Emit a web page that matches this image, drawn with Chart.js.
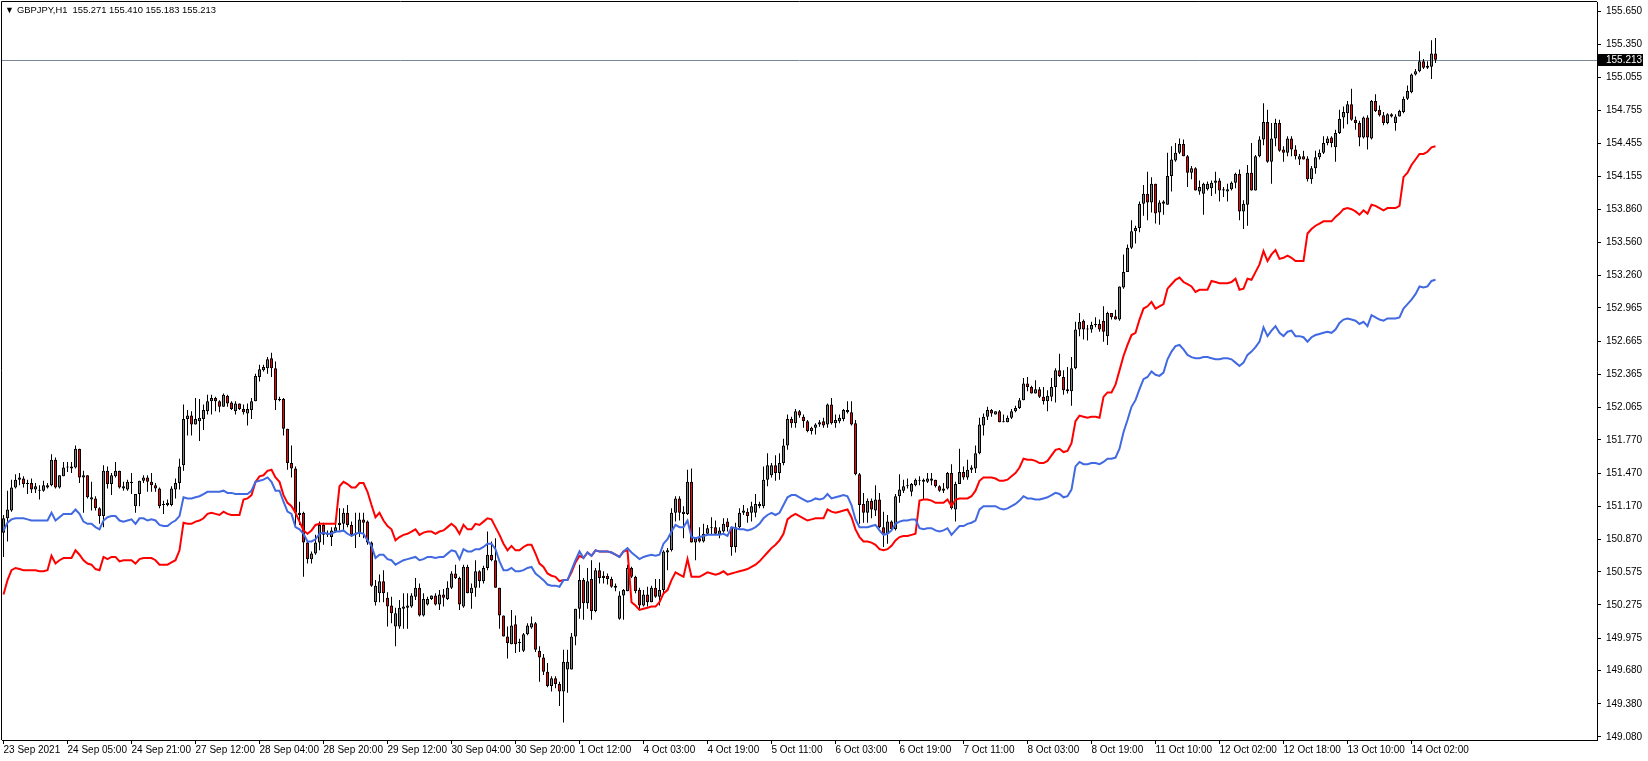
<!DOCTYPE html>
<html>
<head>
<meta charset="utf-8">
<script src="https://cdn.jsdelivr.net/npm/chart.js@4.4.1/dist/chart.umd.min.js"></script>
<style>
  html, body { margin: 0; padding: 0; background: #fff; overflow: hidden; }
  #wrap { position: relative; width: 1648px; height: 761px; }
  #chart { display: block; }
  .hdr { position: absolute; top: 4px; font-family: 'Liberation Sans', Arial, sans-serif; color: #000; white-space: pre; line-height: 12px; }
  #tri { left: 5px; font-size: 9px; }
  #title { left: 17px; font-size: 9.4px; }
</style>
</head>
<body>
<div id="wrap">
  <canvas id="chart" width="1648" height="761"></canvas>
  <span class="hdr" id="tri">▼</span>
  <span class="hdr" id="title">GBPJPY,H1  155.271 155.410 155.183 155.213</span>
</div>
<script>
// GBPJPY H1, one entry per bar (bar 0 = 23 Sep 2021 13:00)
const opens = [
  150.93,151.06,151.13,151.34,151.41,151.42,151.37,151.38,151.32,151.31,
  151.31,151.34,151.36,151.59,151.34,151.44,151.52,151.53,151.52,151.69,
  151.43,151.45,151.23,151.24,151.15,151.08,151.49,151.37,151.44,151.49,
  151.33,151.32,151.38,151.17,151.28,151.40,151.43,151.39,151.36,151.33,
  151.18,151.18,151.18,151.32,151.38,151.54,151.96,151.99,151.91,151.94,
  151.96,152.03,152.12,152.15,152.12,152.07,152.17,152.11,152.03,152.10,
  152.05,152.01,152.04,152.12,152.34,152.40,152.42,152.51,152.42,152.13,
  152.14,151.87,151.56,151.51,151.09,151.11,150.84,150.69,150.74,150.84,
  151.00,150.91,150.89,150.94,151.00,151.01,151.11,151.00,150.91,150.92,
  151.05,151.03,150.84,150.30,150.38,150.49,150.34,150.27,150.08,150.08,
  150.24,150.25,150.26,150.35,150.43,150.18,150.28,150.33,150.36,150.28,
  150.37,150.33,150.43,150.56,150.52,150.26,150.62,150.38,150.43,150.58,
  150.49,150.61,150.73,150.68,150.43,150.18,149.99,149.92,150.10,149.93,
  149.86,150.01,150.07,150.11,149.86,149.80,149.67,149.54,149.61,149.56,
  149.49,149.69,149.69,149.99,150.24,150.50,150.29,150.51,150.22,150.59,
  150.54,150.54,150.51,150.45,150.15,150.36,150.40,150.61,150.53,150.41,
  150.27,150.37,150.30,150.43,150.35,150.41,150.75,150.77,151.11,151.24,
  151.10,151.10,151.39,150.84,150.88,150.85,150.92,150.97,150.98,150.91,
  150.94,151.03,150.98,150.80,150.98,151.11,151.12,151.11,151.11,151.19,
  151.17,151.41,151.45,151.54,151.47,151.56,151.72,151.96,151.92,152.03,
  151.98,151.94,151.85,151.88,151.91,151.94,151.91,152.09,151.92,151.94,
  151.96,152.04,152.02,151.92,151.46,151.19,151.11,151.22,151.13,151.23,
  150.98,150.92,151.03,150.96,151.26,151.31,151.35,151.30,151.36,151.40,
  151.41,151.39,151.42,151.41,151.35,151.31,151.33,151.47,151.14,151.37,
  151.48,151.43,151.50,151.51,151.65,151.90,151.98,152.04,152.00,152.03,
  151.93,151.93,151.97,152.03,152.06,152.13,152.28,152.25,152.19,152.23,
  152.16,152.12,152.16,152.25,152.40,152.34,152.23,152.21,152.42,152.77,
  152.85,152.77,152.77,152.81,152.82,152.85,152.71,152.92,152.89,152.86,
  153.15,153.29,153.51,153.66,153.69,153.91,154.00,153.92,154.09,153.83,
  153.93,153.90,154.16,154.30,154.37,154.45,154.34,154.19,154.23,154.02,
  154.00,154.04,154.05,154.10,154.12,154.04,154.02,154.04,154.10,154.18,
  153.84,153.90,154.19,154.03,154.34,154.49,154.65,154.29,154.50,154.64,
  154.40,154.37,154.50,154.40,154.31,154.34,154.32,154.13,154.23,154.33,
  154.37,154.46,154.51,154.42,154.55,154.69,154.73,154.81,154.67,154.64,
  154.51,154.69,154.50,154.84,154.76,154.71,154.64,154.72,154.64,154.70,
  154.74,154.86,154.92,155.08,155.11,155.20,155.14,155.15,155.271
];
const highs = [
  151.09,151.31,151.41,151.46,151.47,151.44,151.41,151.42,151.38,151.36,
  151.40,151.38,151.64,151.61,151.45,151.57,151.57,151.57,151.72,151.69,
  151.49,151.45,151.39,151.26,151.16,151.54,151.53,151.47,151.57,151.49,
  151.39,151.41,151.47,151.28,151.40,151.45,151.45,151.47,151.38,151.34,
  151.22,151.23,151.35,151.42,151.60,152.09,152.04,152.03,152.15,152.14,
  152.09,152.18,152.18,152.16,152.13,152.19,152.18,152.12,152.12,152.10,
  152.09,152.10,152.15,152.37,152.45,152.45,152.52,152.56,152.48,152.16,
  152.15,151.87,151.72,151.53,151.21,151.12,150.85,150.76,150.91,151.03,
  151.02,150.95,150.98,151.03,151.15,151.15,151.18,151.03,151.11,151.11,
  151.11,151.04,150.85,150.50,150.55,150.59,150.39,150.35,150.25,150.32,
  150.38,150.38,150.38,150.52,150.47,150.38,150.35,150.36,150.38,150.41,
  150.42,150.49,150.58,150.64,150.53,150.64,150.64,150.47,150.68,150.59,
  150.63,150.94,150.85,150.88,150.43,150.18,150.08,150.23,150.18,149.97,
  150.02,150.11,150.17,150.12,149.90,149.83,149.75,149.63,149.63,149.58,
  149.87,149.87,150.02,150.24,150.64,150.52,150.61,150.68,150.61,150.66,
  150.58,150.56,150.53,150.47,150.40,150.42,150.64,150.62,150.54,150.43,
  150.41,150.44,150.45,150.51,150.51,150.77,150.79,151.15,151.26,151.26,
  151.17,151.50,151.51,150.89,150.98,151.01,151.00,151.07,151.04,150.98,
  151.06,151.06,150.98,151.02,151.15,151.18,151.15,151.21,151.28,151.21,
  151.53,151.65,151.56,151.63,151.65,151.78,152.00,151.98,152.05,152.04,
  152.00,151.95,151.89,151.92,151.95,151.97,152.10,152.15,152.00,152.00,
  152.05,152.12,152.12,151.95,151.47,151.29,151.24,151.24,151.36,151.29,
  151.12,151.09,151.04,151.28,151.46,151.41,151.42,151.38,151.42,151.44,
  151.42,151.47,151.47,151.41,151.36,151.38,151.48,151.55,151.39,151.69,
  151.53,151.59,151.54,151.72,151.97,152.01,152.07,152.05,152.03,152.04,
  152.00,151.99,152.05,152.08,152.15,152.33,152.34,152.26,152.31,152.25,
  152.25,152.22,152.33,152.42,152.55,152.40,152.43,152.52,152.84,152.92,
  152.86,152.81,152.84,152.88,152.86,152.98,152.93,152.92,152.95,153.16,
  153.45,153.54,153.76,153.71,153.93,154.08,154.20,154.15,154.09,153.94,
  153.94,154.37,154.43,154.46,154.50,154.49,154.35,154.25,154.24,154.12,
  154.10,154.11,154.12,154.20,154.14,154.06,154.09,154.11,154.19,154.22,
  153.94,154.26,154.46,154.35,154.52,154.82,154.76,154.64,154.68,154.67,
  154.43,154.52,154.52,154.44,154.36,154.39,154.34,154.25,154.39,154.40,
  154.52,154.52,154.52,154.58,154.76,154.79,154.84,154.95,154.70,154.66,
  154.70,154.71,154.85,154.90,154.80,154.74,154.73,154.73,154.72,154.76,
  154.88,154.98,155.09,155.13,155.29,155.22,155.20,155.39,155.410
];
const lows = [
  150.71,150.85,151.12,151.33,151.36,151.34,151.28,151.29,151.29,151.23,
  151.30,151.33,151.35,151.33,151.33,151.44,151.48,151.47,151.51,151.38,
  151.11,151.24,151.13,151.13,151.01,150.98,151.33,151.27,151.43,151.33,
  151.31,151.31,151.28,151.11,151.17,151.38,151.30,151.30,151.30,151.15,
  151.10,151.17,151.17,151.24,151.32,151.49,151.81,151.81,151.91,151.76,
  151.86,152.00,152.00,152.03,152.02,152.07,152.07,152.04,152.00,152.04,
  152.00,151.90,151.96,152.12,152.30,152.39,152.37,152.34,152.04,152.12,
  151.81,151.50,151.43,150.98,151.00,150.53,150.65,150.65,150.73,150.77,
  150.82,150.89,150.81,150.93,150.95,150.94,150.98,150.89,150.79,150.89,
  150.88,150.82,150.44,150.27,150.30,150.30,150.08,150.11,149.90,150.06,
  150.06,150.06,150.25,150.32,150.17,150.17,150.27,150.32,150.27,150.23,
  150.26,150.32,150.42,150.51,150.23,150.25,150.38,150.24,150.35,150.43,
  150.47,150.59,150.67,150.43,150.06,149.99,149.79,149.92,149.84,149.85,
  149.85,150.00,150.06,149.85,149.58,149.64,149.53,149.49,149.52,149.36,
  149.21,149.48,149.69,149.91,150.15,150.14,150.24,150.14,150.21,150.47,
  150.47,150.46,150.43,150.40,150.14,150.14,150.40,150.52,150.38,150.23,
  150.26,150.26,150.30,150.34,150.27,150.37,150.59,150.76,151.03,151.04,
  150.88,151.09,150.84,150.68,150.84,150.84,150.91,150.91,150.91,150.88,
  150.93,150.94,150.72,150.75,150.97,151.09,151.02,151.03,151.07,151.15,
  151.15,151.35,151.43,151.40,151.41,151.54,151.68,151.88,151.88,151.97,
  151.88,151.84,151.82,151.82,151.89,151.88,151.88,151.91,151.88,151.92,
  151.94,152.01,151.90,151.45,151.01,151.02,151.02,151.06,151.08,150.97,
  150.80,150.83,150.95,150.95,151.20,151.29,151.33,151.26,151.35,151.36,
  151.23,151.38,151.36,151.34,151.30,151.29,151.32,151.14,151.03,151.37,
  151.41,151.41,151.47,151.47,151.64,151.81,151.95,151.98,152.00,151.93,
  151.93,151.93,151.96,152.02,152.05,152.13,152.21,152.19,152.19,152.15,
  152.09,152.03,152.12,152.11,152.34,152.18,152.19,152.08,152.41,152.71,
  152.68,152.67,152.74,152.79,152.75,152.66,152.63,152.86,152.86,152.85,
  153.14,153.29,153.50,153.55,153.65,153.80,153.76,153.83,153.73,153.72,
  153.81,153.90,154.02,154.29,154.36,154.34,154.06,154.13,154.03,153.99,
  153.81,154.03,153.98,154.00,153.93,153.97,153.93,154.03,154.05,153.76,
  153.68,153.71,154.03,154.03,154.33,154.44,154.28,154.09,154.43,154.38,
  154.29,154.34,154.34,154.31,154.26,154.31,154.11,154.09,154.18,154.31,
  154.36,154.44,154.42,154.29,154.54,154.59,154.63,154.66,154.58,154.43,
  154.50,154.40,154.49,154.74,154.70,154.62,154.63,154.69,154.57,154.70,
  154.73,154.85,154.91,155.07,155.10,155.13,155.13,155.04,155.183
];
const closes = [
  151.06,151.14,151.34,151.41,151.43,151.37,151.38,151.32,151.35,151.31,
  151.36,151.36,151.59,151.34,151.45,151.52,151.53,151.51,151.69,151.43,
  151.45,151.25,151.25,151.15,151.08,151.49,151.37,151.45,151.49,151.34,
  151.35,151.39,151.39,151.28,151.40,151.43,151.39,151.36,151.33,151.17,
  151.19,151.20,151.33,151.38,151.53,151.96,151.99,151.91,151.96,151.97,
  152.04,152.12,152.15,152.12,152.07,152.18,152.10,152.05,152.10,152.05,
  152.02,152.05,152.12,152.35,152.41,152.43,152.50,152.42,152.13,152.14,
  151.87,151.56,151.51,151.11,151.11,150.84,150.69,150.74,150.84,151.00,
  150.91,150.92,150.95,150.98,151.02,151.11,151.00,150.91,150.92,151.05,
  151.02,150.84,150.45,150.45,150.49,150.38,150.26,150.20,150.20,150.25,
  150.26,150.27,150.36,150.43,150.18,150.33,150.33,150.36,150.28,150.37,
  150.34,150.43,150.56,150.52,150.28,150.62,150.38,150.43,150.58,150.49,
  150.61,150.73,150.68,150.43,150.18,149.99,149.93,150.09,149.92,149.93,
  150.01,150.09,150.11,149.87,149.80,149.67,149.54,149.61,149.56,149.49,
  149.76,149.76,149.99,150.24,150.50,150.29,150.49,150.22,150.59,150.52,
  150.52,150.51,150.44,150.43,150.36,150.41,150.61,150.53,150.40,150.27,
  150.37,150.30,150.43,150.35,150.41,150.76,150.77,151.11,151.24,151.11,
  151.12,151.39,150.84,150.88,150.85,150.92,150.97,150.98,150.92,150.95,
  151.01,150.98,150.80,150.98,151.11,151.13,151.08,151.17,151.19,151.17,
  151.41,151.54,151.54,151.47,151.56,151.72,151.96,151.92,152.03,151.99,
  151.94,151.85,151.88,151.91,151.93,151.90,152.09,151.92,151.95,151.97,
  152.04,152.02,151.91,151.46,151.18,151.11,151.22,151.14,151.23,150.98,
  150.92,151.03,150.96,151.26,151.32,151.35,151.36,151.37,151.41,151.41,
  151.39,151.42,151.40,151.35,151.31,151.33,151.47,151.15,151.37,151.48,
  151.43,151.50,151.52,151.65,151.91,151.98,152.04,152.01,152.03,151.93,
  151.94,151.97,152.03,152.06,152.13,152.28,152.25,152.19,152.23,152.16,
  152.12,152.17,152.25,152.40,152.35,152.22,152.21,152.42,152.77,152.84,
  152.77,152.77,152.81,152.82,152.77,152.75,152.92,152.88,152.86,153.16,
  153.29,153.51,153.66,153.69,153.91,154.00,153.92,154.09,153.82,153.92,
  153.91,154.16,154.31,154.37,154.45,154.34,154.19,154.23,154.03,154.06,
  154.09,154.09,154.10,154.12,154.03,154.03,154.04,154.10,154.18,153.84,
  153.91,154.19,154.03,154.34,154.49,154.65,154.29,154.50,154.64,154.39,
  154.37,154.50,154.40,154.34,154.34,154.31,154.13,154.23,154.33,154.37,
  154.46,154.50,154.46,154.55,154.68,154.74,154.81,154.67,154.64,154.51,
  154.69,154.51,154.84,154.75,154.71,154.64,154.72,154.70,154.70,154.75,
  154.86,154.93,155.08,155.11,155.20,155.14,155.16,155.27,155.213
];
// red indicator line
const redLine = [
  150.37,150.50,150.59,150.61,150.60,150.59,150.59,150.59,150.59,150.58,
  150.58,150.59,150.72,150.65,150.68,150.70,150.70,150.70,150.77,150.73,
  150.68,150.65,150.64,150.60,150.59,150.71,150.69,150.71,150.71,150.67,
  150.68,150.68,150.68,150.65,150.69,150.70,150.70,150.70,150.68,150.64,
  150.64,150.64,150.66,150.68,150.77,151.02,151.01,151.01,151.03,151.04,
  151.06,151.10,151.11,151.10,151.09,151.12,151.10,151.09,151.09,151.09,
  151.23,151.24,151.27,151.39,151.44,151.45,151.49,151.50,151.43,151.39,
  151.27,151.20,151.17,151.11,151.03,150.95,150.92,150.95,151.00,151.01,
  151.01,151.01,151.01,151.01,151.35,151.39,151.37,151.34,151.34,151.38,
  151.38,151.30,151.18,151.07,151.11,151.04,150.99,150.96,150.86,150.89,
  150.91,150.92,150.94,150.96,150.91,150.93,150.94,150.94,150.92,150.94,
  150.95,150.98,151.01,150.98,150.92,151.00,150.96,150.96,151.01,151.00,
  151.03,151.06,151.05,150.98,150.91,150.83,150.77,150.81,150.77,150.77,
  150.80,150.82,150.82,150.74,150.65,150.62,150.56,150.54,150.53,150.49,
  150.50,150.50,150.57,150.66,150.72,150.70,150.75,150.72,150.77,150.76,
  150.76,150.76,150.75,150.73,150.71,150.76,150.77,150.30,150.27,150.23,
  150.24,150.25,150.26,150.26,150.30,150.38,150.41,150.50,150.57,150.55,
  150.53,150.69,150.53,150.53,150.53,150.55,150.57,150.56,150.55,150.56,
  150.58,150.55,150.56,150.57,150.58,150.59,150.60,150.62,150.64,150.67,
  150.71,150.75,150.79,150.82,150.86,150.92,151.05,151.08,151.10,151.08,
  151.06,151.04,151.05,151.06,151.06,151.06,151.14,151.12,151.11,151.12,
  151.13,151.14,151.07,150.96,150.89,150.85,150.85,150.84,150.82,150.78,
  150.77,150.78,150.81,150.86,150.89,150.90,150.90,150.91,150.92,151.22,
  151.23,151.23,151.22,151.20,151.20,151.20,151.23,151.17,151.23,151.24,
  151.24,151.24,151.26,151.31,151.40,151.43,151.43,151.43,151.42,151.40,
  151.40,151.41,151.44,151.47,151.52,151.60,151.59,151.59,151.58,151.56,
  151.56,151.58,151.63,151.68,151.69,151.66,151.67,151.74,151.94,151.99,
  151.98,151.97,151.98,151.98,151.97,152.16,152.20,152.20,152.27,152.40,
  152.53,152.63,152.72,152.74,152.86,152.96,152.98,153.02,152.96,152.98,
  153.00,153.14,153.18,153.22,153.24,153.20,153.18,153.16,153.11,153.13,
  153.13,153.13,153.21,153.20,153.19,153.19,153.19,153.20,153.23,153.13,
  153.14,153.23,153.22,153.29,153.36,153.48,153.39,153.45,153.49,153.41,
  153.42,153.44,153.42,153.39,153.39,153.39,153.64,153.68,153.71,153.73,
  153.75,153.75,153.75,153.79,153.82,153.86,153.87,153.86,153.84,153.81,
  153.85,153.82,153.90,153.89,153.87,153.85,153.87,153.87,153.87,153.89,
  154.15,154.19,154.26,154.31,154.36,154.36,154.38,154.42,154.43
];
// blue indicator line
const blueLine = [
  150.95,151.02,151.05,151.06,151.06,151.06,151.05,151.04,151.04,151.04,
  151.04,151.04,151.11,151.04,151.07,151.10,151.10,151.10,151.14,151.10,
  151.03,151.01,151.01,150.98,150.96,151.04,151.07,151.08,151.08,151.04,
  151.03,151.04,151.05,151.01,151.06,151.06,151.04,151.05,151.04,151.00,
  150.99,150.99,151.02,151.04,151.08,151.25,151.24,151.24,151.25,151.26,
  151.28,151.30,151.30,151.30,151.30,151.31,151.29,151.29,151.28,151.28,
  151.28,151.28,151.31,151.39,151.40,151.41,151.43,151.39,151.31,151.31,
  151.21,151.12,151.10,150.98,150.96,150.92,150.85,150.85,150.87,150.92,
  150.93,150.92,150.92,150.94,150.94,150.95,150.92,150.90,150.92,150.93,
  150.92,150.86,150.81,150.70,150.73,150.73,150.69,150.68,150.64,150.66,
  150.68,150.69,150.70,150.71,150.68,150.69,150.71,150.71,150.70,150.71,
  150.71,150.74,150.77,150.76,150.69,150.78,150.76,150.76,150.78,150.78,
  150.80,150.83,150.83,150.78,150.67,150.59,150.59,150.61,150.58,150.58,
  150.59,150.61,150.62,150.56,150.53,150.50,150.46,150.45,150.45,150.44,
  150.50,150.50,150.59,150.68,150.76,150.70,150.75,150.72,150.77,150.76,
  150.76,150.76,150.75,150.73,150.71,150.76,150.79,150.75,150.72,150.69,
  150.71,150.72,150.73,150.72,150.73,150.83,150.87,150.94,151.00,150.98,
  150.98,151.04,150.89,150.88,150.89,150.90,150.91,150.91,150.91,150.91,
  150.92,150.90,150.98,150.97,150.96,150.96,150.95,150.96,150.98,151.01,
  151.06,151.09,151.11,151.09,151.11,151.18,151.25,151.27,151.27,151.25,
  151.23,151.21,151.22,151.24,151.23,151.24,151.28,151.24,151.25,151.26,
  151.27,151.26,151.18,151.05,150.98,150.98,150.98,150.99,151.00,150.95,
  150.91,150.92,150.95,151.01,151.03,151.04,151.04,151.05,151.05,150.97,
  150.96,150.97,150.97,150.95,150.94,150.95,150.97,150.91,150.95,150.99,
  150.99,151.01,151.02,151.04,151.14,151.17,151.17,151.17,151.17,151.15,
  151.14,151.15,151.17,151.19,151.22,151.26,151.24,151.24,151.23,151.23,
  151.24,151.25,151.27,151.29,151.28,151.25,151.26,151.32,151.53,151.57,
  151.55,151.55,151.56,151.56,151.55,151.57,151.60,151.60,151.61,151.69,
  151.84,151.95,152.07,152.13,152.23,152.32,152.34,152.39,152.36,152.35,
  152.38,152.50,152.57,152.62,152.63,152.59,152.54,152.52,152.51,152.51,
  152.52,152.52,152.51,152.50,152.50,152.51,152.51,152.50,152.47,152.44,
  152.47,152.54,152.57,152.61,152.66,152.79,152.71,152.76,152.80,152.74,
  152.71,152.75,152.76,152.71,152.71,152.70,152.66,152.70,152.72,152.73,
  152.74,152.75,152.74,152.77,152.83,152.86,152.87,152.86,152.85,152.82,
  152.84,152.80,152.90,152.88,152.86,152.85,152.87,152.87,152.87,152.88,
  152.96,153.00,153.04,153.09,153.16,153.15,153.16,153.21,153.22
];
// time axis labels, one every 16 bars
const timeLabels = [
  '23 Sep 2021', '24 Sep 05:00', '24 Sep 21:00', '27 Sep 12:00', '28 Sep 04:00',
  '28 Sep 20:00', '29 Sep 12:00', '30 Sep 04:00', '30 Sep 20:00', '1 Oct 12:00',
  '4 Oct 03:00', '4 Oct 19:00', '5 Oct 11:00', '6 Oct 03:00', '6 Oct 19:00',
  '7 Oct 11:00', '8 Oct 03:00', '8 Oct 19:00', '11 Oct 10:00', '12 Oct 02:00',
  '12 Oct 18:00', '13 Oct 10:00', '14 Oct 02:00'
];
const priceTicks = [
  155.650, 155.350, 155.055, 154.755, 154.455, 154.155, 153.860, 153.560,
  153.260, 152.965, 152.665, 152.365, 152.065, 151.770, 151.470, 151.170,
  150.870, 150.575, 150.275, 149.975, 149.680, 149.380, 149.080
];
const bidPrice = 155.213;

const axisFont = { family: 'Liberation Sans', size: 10 };
const idx = opens.map((_, i) => i);
const bodyColors = idx.map(i => closes[i] >= opens[i] ? '#808080' : '#ff0000');

const chartFrame = {
  id: 'chartFrame',
  beforeDatasetsDraw(chart) {
    const { ctx, chartArea: a, scales: { y } } = chart;
    const py = Math.round(y.getPixelForValue(bidPrice)) + 0.5;
    ctx.save();
    ctx.strokeStyle = '#778899';
    ctx.lineWidth = 1;
    ctx.beginPath();
    ctx.moveTo(a.left, py);
    ctx.lineTo(a.right, py);
    ctx.stroke();
    ctx.restore();
  },
  afterDraw(chart) {
    const { ctx, chartArea: a, scales: { y } } = chart;
    ctx.save();
    ctx.strokeStyle = '#000';
    ctx.lineWidth = 1;
    ctx.beginPath();
    ctx.moveTo(a.left - 0.5, a.bottom);
    ctx.lineTo(a.left - 0.5, a.top - 0.5);
    ctx.lineTo(a.right, a.top - 0.5);
    ctx.stroke();
    // current price tag
    const py = Math.round(y.getPixelForValue(bidPrice));
    ctx.fillStyle = '#000';
    ctx.fillRect(a.right + 1, py - 6, 45, 12);
    ctx.fillStyle = '#fff';
    ctx.font = '10px "Liberation Sans"';
    ctx.textBaseline = 'middle';
    ctx.fillText(bidPrice.toFixed(3), a.right + 9, py + 0.5);
    ctx.restore();
  }
};

new Chart(document.getElementById('chart'), {
  type: 'bar',
  data: {
    datasets: [
      {
        type: 'line', label: 'Blue line',
        data: idx.map(i => ({ x: i, y: blueLine[i] })),
        borderColor: '#4169e1', borderWidth: 2, pointRadius: 0, tension: 0, order: 0
      },
      {
        type: 'line', label: 'Red line',
        data: idx.map(i => ({ x: i, y: redLine[i] })),
        borderColor: '#ff0000', borderWidth: 2, pointRadius: 0, tension: 0, order: 1
      },
      {
        label: 'Body',
        data: idx.map(i => ({ x: i, y: [opens[i], closes[i]] })),
        backgroundColor: bodyColors, borderColor: '#000', borderWidth: 1,
        borderSkipped: false, barThickness: 3, maxBarThickness: 3, minBarLength: 1,
        grouped: false, inflateAmount: 0, order: 2
      },
      {
        label: 'Wick',
        data: idx.map(i => ({ x: i, y: [lows[i], highs[i]] })),
        backgroundColor: '#000', borderWidth: 0,
        barThickness: 1, maxBarThickness: 1, grouped: false, inflateAmount: 0, order: 3
      }
    ]
  },
  options: {
    responsive: false,
    devicePixelRatio: 1,
    animation: false,
    events: [],
    layout: { padding: { left: 2, top: 2, right: 0, bottom: 0 } },
    plugins: { legend: { display: false }, tooltip: { enabled: false } },
    scales: {
      x: {
        type: 'linear', position: 'bottom', bounds: 'data', offset: false,
        min: -0.375, max: 398.375,
        grid: { drawOnChartArea: false, drawTicks: true, tickLength: 4, color: '#000', offset: false },
        border: { display: true, color: '#000' },
        ticks: {
          autoSkip: false, maxRotation: 0, minRotation: 0, align: 'start', padding: 0,
          color: '#000', font: axisFont,
          callback: v => timeLabels[Math.round(v / 16)]
        },
        afterBuildTicks: s => { s.ticks = timeLabels.map((_, k) => ({ value: k * 16 })); },
        afterFit: s => { s.height = 21; s.paddingLeft = 0; s.paddingRight = 0; }
      },
      y: {
        type: 'linear', position: 'right', bounds: 'data',
        min: 149.0518, max: 155.7366,
        grid: { drawOnChartArea: false, drawTicks: true, tickLength: 4, color: '#000' },
        border: { display: true, color: '#000' },
        ticks: {
          autoSkip: false, padding: 5, color: '#000', font: axisFont,
          callback: v => v.toFixed(3)
        },
        afterBuildTicks: s => { s.ticks = priceTicks.map(v => ({ value: v })); },
        afterFit: s => { s.width = 51; s.paddingTop = 0; s.paddingBottom = 0; }
      }
    }
  },
  plugins: [chartFrame]
});
</script>
</body>
</html>
